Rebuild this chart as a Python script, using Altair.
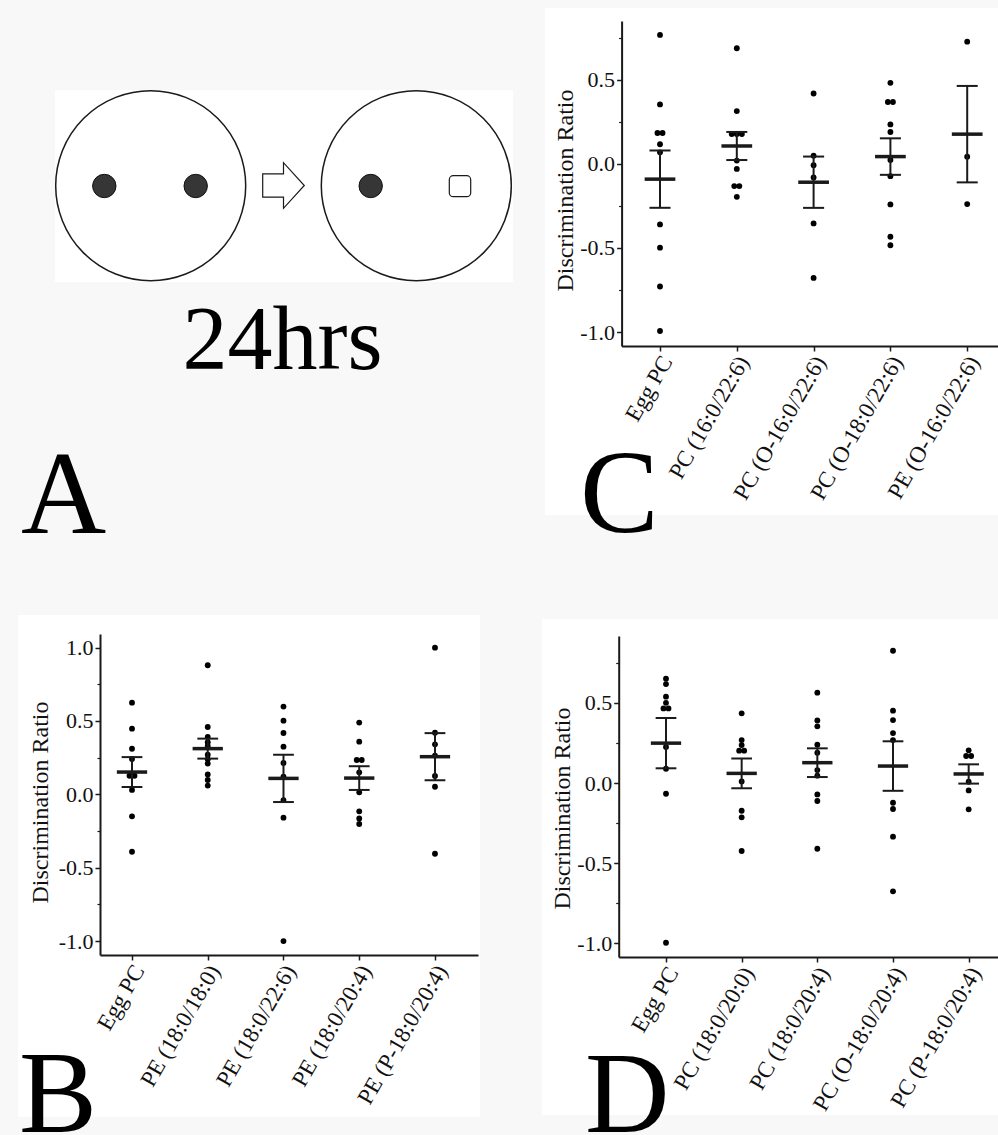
import altair as alt
import pandas as pd

# ---------------- data ----------------
C_categories = ["Egg PC", "PC (16:0/22:6)", "PC (O-16:0/22:6)", "PC (O-18:0/22:6)", "PE (O-16:0/22:6)"]
C_egg_pc = [0.767, 0.354, 0.184, 0.184, 0.117, 0.069, -0.36, -0.498, -0.729, -0.994]
C_pc_16_226 = [0.688, 0.314, 0.178, 0.178, 0.178, 0.020, -0.030, -0.132, -0.132, -0.196]
C_pc_o16_226 = [0.419, 0.049, -0.008, -0.081, -0.354, -0.678]
C_pc_o18_226 = [0.482, 0.368, 0.368, 0.235, 0.190, 0.024, -0.073, -0.241, -0.433, -0.484]
C_pe_o16_226 = [0.727, 0.043, -0.239]

B_categories = ["Egg PC", "PE (18:0/18:0)", "PE (18:0/22:6)", "PE (18:0/20:4)", "PE (P-18:0/20:4)"]
B_egg_pc = [0.625, 0.448, 0.311, 0.241, 0.127, 0.127, 0.030, -0.150, -0.391]
B_pe_18_18 = [0.88, 0.459, 0.391, 0.355, 0.33, 0.27, 0.24, 0.21, 0.136, 0.098, 0.06]
B_pe_18_226 = [0.598, 0.502, 0.418, 0.325, 0.214, 0.120, -0.039, -0.159, -1.0]
B_pe_18_204 = [0.489, 0.359, 0.234, 0.234, 0.150, 0.014, -0.116, -0.164, -0.202]
B_pe_p18_204 = [1.0, 0.42, 0.341, 0.264, 0.125, 0.052, -0.405]

D_categories = ["Egg PC", "PC (18:0/20:0)", "PC (18:0/20:4)", "PC (O-18:0/20:4)", "PC (P-18:0/20:4)"]
D_egg_pc = [0.651, 0.618, 0.539, 0.501, 0.466, 0.466, 0.225, 0.089, -0.067, -0.997]
D_pc_18_200 = [0.435, 0.268, 0.237, 0.202, 0.202, 0.010, -0.173, -0.214, -0.424]
D_pc_18_204 = [0.564, 0.391, 0.354, 0.239, 0.189, 0.081, 0.046, -0.071, -0.112, -0.41]
D_pc_o18_204 = [0.826, 0.452, 0.393, 0.312, 0.268, -0.123, -0.162, -0.335, -0.676]
D_pc_p18_204 = [0.204, 0.169, 0.169, 0.008, -0.046, -0.164]

y_ticks_major = [-1.0, -0.5, 0.0, 0.5]
y_ticks_major_B = [-1.0, -0.5, 0.0, 0.5, 1.0]
y_ticks_minor = [-0.75, -0.25, 0.25, 0.75]
y_title = "Discrimination Ratio"

# ---------------- styling ----------------
W, H = 998, 1135
FONT = "Liberation Serif"
INK = "#1a1a1a"
BG = "#f8f8f8"


def long_df(categories, groups):
    rows = []
    for i, (c, vals) in enumerate(zip(categories, groups)):
        for v in vals:
            rows.append({"i": i, "cat": c, "v": v})
    return pd.DataFrame(rows)


one = pd.DataFrame({"k": [0]})


def panel(categories, groups, x_range, x_domain, y_range, y_domain,
          title_x, title_y, major):
    df = long_df(categories, groups)
    xs = alt.Scale(domain=x_domain, range=x_range, nice=False, zero=False)
    ys = alt.Scale(domain=y_domain, range=y_range, nice=False, zero=False)
    axis_y_px = y_range[0]
    axis_x_px = x_range[0]
    label_expr = "[" + ",".join("'%s'" % c for c in categories) + "][datum.value]"
    xaxis = alt.Axis(
        orient="bottom", offset=axis_y_px - H, zindex=2,
        values=list(range(len(categories))), labelExpr=label_expr,
        labelAngle=-60, labelAlign="right", labelBaseline="top",
        labelOffset=-3, labelPadding=1, labelFlush=False, labelOverlap=False,
        labelFont=FONT, labelFontSize=23, labelColor="#111",
        tickSize=5, tickWidth=1.5, tickColor=INK,
        domainColor=INK, domainWidth=2, grid=False, title=None,
    )
    yaxis = alt.Axis(
        orient="left", offset=-axis_x_px, values=major, zindex=2,
        labelExpr="(datum.value < 0 ? '-' : '') + format(abs(datum.value), '.1f')",
        labelFont=FONT, labelFontSize=22, labelColor="#111", labelPadding=2,
        labelFlush=False, labelOverlap=False,
        tickSize=5, tickWidth=1.5, tickColor=INK,
        domainColor=INK, domainWidth=2, grid=False,
        title=y_title, titleFont=FONT, titleFontSize=24, titleFontWeight="normal",
        titleColor="#111", titleX=title_x - axis_x_px, titleY=title_y,
        titleAlign="center", titleBaseline="middle",
    )
    minor_axis = alt.Axis(
        orient="left", offset=-axis_x_px, values=y_ticks_minor, zindex=2,
        labels=False, domain=False, tickSize=3, tickWidth=1.2, tickColor=INK,
        grid=False, title=None,
    )
    base = alt.Chart(df)
    points = base.transform_window(
        r="row_number()", n="count()", groupby=["i", "v"], frame=[None, None]
    ).transform_calculate(
        xo="datum.i + (datum.r - (datum.n + 1) / 2) * 0.066"
    ).mark_circle(size=34, color="black", opacity=1).encode(
        x=alt.X("xo:Q", scale=xs, axis=xaxis),
        y=alt.Y("v:Q", scale=ys, axis=yaxis),
    )
    stats = base.transform_aggregate(
        m="mean(v)", se="stderr(v)", groupby=["i"]
    ).transform_calculate(
        lo="datum.m - datum.se", hi="datum.m + datum.se",
        a="datum.i - 0.2", b="datum.i + 0.2",
        ca="datum.i - 0.137", cb="datum.i + 0.137",
    )
    mean_bar = stats.mark_rule(color=INK, strokeWidth=3.5).encode(
        x=alt.X("a:Q", scale=xs, axis=xaxis), x2="b:Q",
        y=alt.Y("m:Q", scale=ys, axis=yaxis),
    )
    vline = stats.mark_rule(color=INK, strokeWidth=2).encode(
        x=alt.X("i:Q", scale=xs, axis=xaxis),
        y=alt.Y("lo:Q", scale=ys, axis=yaxis), y2="hi:Q",
    )
    cap_lo = stats.mark_rule(color=INK, strokeWidth=2).encode(
        x=alt.X("ca:Q", scale=xs, axis=xaxis), x2="cb:Q",
        y=alt.Y("lo:Q", scale=ys, axis=yaxis),
    )
    cap_hi = stats.mark_rule(color=INK, strokeWidth=2).encode(
        x=alt.X("ca:Q", scale=xs, axis=xaxis), x2="cb:Q",
        y=alt.Y("hi:Q", scale=ys, axis=yaxis),
    )
    main = alt.layer(points, vline, cap_lo, cap_hi, mean_bar)
    minor = alt.Chart(df).mark_point(opacity=0).encode(
        y=alt.Y("v:Q", scale=alt.Scale(domain=y_domain, range=y_range, nice=False, zero=False),
                axis=minor_axis)
    )
    return main, minor


C_main, C_minor = panel(
    C_categories, [C_egg_pc, C_pc_16_226, C_pc_o16_226, C_pc_o18_226, C_pe_o16_226],
    x_range=[621.6, 1005.6], x_domain=[-0.5, 4.5],
    y_range=[346, 21], y_domain=[-1.083, 0.85],
    title_x=565, title_y=190, major=y_ticks_major,
)
B_main, B_minor = panel(
    B_categories, [B_egg_pc, B_pe_18_18, B_pe_18_226, B_pe_18_204, B_pe_p18_204],
    x_range=[100, 478], x_domain=[-0.4224, 4.568],
    y_range=[955, 634], y_domain=[-1.095, 1.093],
    title_x=40, title_y=802, major=y_ticks_major_B,
)
D_main, D_minor = panel(
    D_categories, [D_egg_pc, D_pc_18_200, D_pc_18_204, D_pc_o18_204, D_pc_p18_204],
    x_range=[618.7, 1006.5], x_domain=[-0.625, 4.5],
    y_range=[957, 636], y_domain=[-1.086, 0.918],
    title_x=562, title_y=808, major=y_ticks_major,
)


# ---------------- decorations (panel backgrounds, schematic) ----------------
def rect(x1, y1, x2, y2, **kw):
    return alt.Chart(one).mark_rect(**kw).encode(
        x=alt.value(x1), x2=alt.value(x2), y=alt.value(y1), y2=alt.value(y2)
    )


def text(t, x, y, size, align="left"):
    return alt.Chart(pd.DataFrame({"t": [t]})).mark_text(
        font=FONT, fontSize=size, align=align, baseline="alphabetic", color="black"
    ).encode(text="t:N", x=alt.value(x), y=alt.value(y))


def disc(x, y, diameter, fill, stroke, sw):
    return alt.Chart(one).mark_circle(
        size=diameter ** 2, fill=fill, stroke=stroke, strokeWidth=sw, opacity=1,
        fillOpacity=1, strokeOpacity=1
    ).encode(x=alt.value(x), y=alt.value(y))


arrow_path = "M -0.912 -0.511 L 0 -0.511 L 0 -1 L 0.912 0 L 0 1 L 0 0.511 L -0.912 0.511 Z"
arrow = alt.Chart(one).mark_point(
    shape=arrow_path, size=45.6 ** 2, filled=True, fill="white", stroke=INK,
    strokeWidth=1.2, opacity=1, fillOpacity=1, strokeOpacity=1
).encode(x=alt.value(283.5), y=alt.value(185.5))

decor = [
    rect(545, 8, 998, 515, fill="white"),
    rect(18, 615, 480, 1117, fill="white"),
    rect(542, 619, 998, 1115, fill="white"),
    rect(55, 90, 513, 282, fill="white"),
    disc(150.7, 185.7, 190, "white", INK, 1.5),
    disc(416.3, 185.7, 190, "white", INK, 1.5),
    disc(104.3, 186, 23.4, "#363636", "#111", 1),
    disc(195.7, 186, 23.4, "#363636", "#111", 1),
    disc(370.7, 186, 23.4, "#363636", "#111", 1),
    rect(449.3, 175.7, 470.7, 196.7, fill="white", stroke=INK, strokeWidth=1.2, cornerRadius=4),
    arrow,
]

letters = [
    text("24hrs", 282.5, 369, 90, align="center"),
    text("A", 21, 533, 118),
    text("C", 580, 532, 118),
    text("B", 19, 1132, 117),
    text("D", 585, 1132, 117),
]

chart = alt.layer(
    *decor, C_main, C_minor, B_main, B_minor, D_main, D_minor, *letters
).resolve_scale(
    x="independent", y="independent"
).resolve_axis(
    x="independent", y="independent"
).properties(
    width=W, height=H, padding=0,
    autosize=alt.AutoSizeParams(type="none"),
    background=BG,
).configure_view(stroke=None)

chart.save("out.html", embed_options={"renderer": "svg", "actions": False})
